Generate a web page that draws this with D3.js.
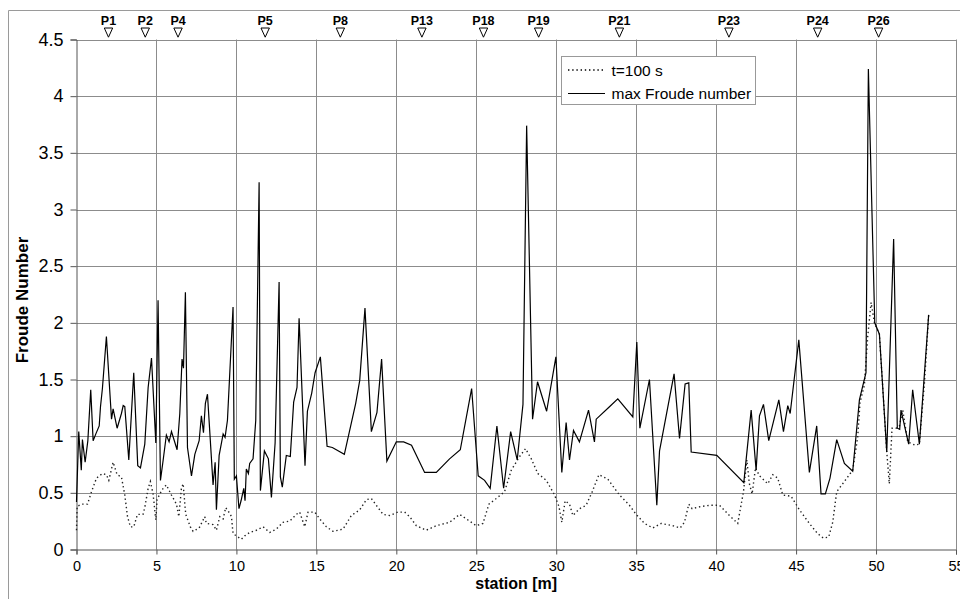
<!DOCTYPE html>
<html>
<head>
<meta charset="utf-8">
<script src="https://cdn.jsdelivr.net/npm/d3@7"></script>
<style>
  html, body { margin: 0; padding: 0; background: #fff; }
  svg { display: block; font-family: "Liberation Sans", Arial, sans-serif; }
</style>
</head>
<body>
<svg id="chart" width="960" height="599"></svg>
<script>
// ---- data ----
const maxStation = [
  0, 0.14, 0.3, 0.37, 0.54, 0.71, 0.89, 1.04, 1.21, 1.42,
  1.5, 1.62, 1.87, 2.19, 2.29, 2.54, 2.81, 2.92, 3.02, 3.27,
  3.58, 3.83, 4.0, 4.27, 4.48, 4.69, 4.96, 5.1, 5.25, 5.42,
  5.62, 5.79, 5.94, 6.29, 6.46, 6.6, 6.69, 6.81, 6.94, 7.19,
  7.4, 7.67, 7.81, 7.94, 8.06, 8.19, 8.54, 8.67, 8.75, 8.92,
  9.17, 9.29, 9.44, 9.79, 9.87, 10.0, 10.16, 10.29, 10.46, 10.54,
  10.62, 10.75, 10.83, 11.04, 11.21, 11.42, 11.5, 11.75, 12.0, 12.19,
  12.42, 12.67, 12.75, 12.87, 13.12, 13.37, 13.58, 13.79, 13.92, 14.29,
  14.44, 14.71, 14.92, 15.25, 15.67, 16.0, 16.75, 17.46, 17.71, 18.04,
  18.44, 18.79, 19.08, 19.41, 20.0, 20.46, 20.95, 21.77, 22.5, 23.33,
  24.0, 24.71, 25.12, 25.52, 25.87, 26.29, 26.71, 27.15, 27.56, 27.92,
  28.15, 28.52, 28.83, 29.4, 29.98, 30.35, 30.62, 30.83, 31.08, 31.45,
  32.02, 32.39, 32.5, 33.33, 33.85, 34.79, 35.04, 35.23, 35.83, 36.29,
  36.46, 37.37, 37.71, 38.06, 38.29, 38.44, 40.04, 41.73, 42.19, 42.5,
  42.71, 42.96, 43.29, 43.92, 44.21, 44.48, 44.63, 45.17, 45.83, 46.29,
  46.56, 46.83, 47.12, 47.54, 48.02, 48.54, 48.96, 49.37, 49.52, 49.92,
  50.21, 50.67, 51.1, 51.33, 51.48, 51.56, 52.04, 52.29, 52.71, 53.29
];
const maxFroude = [
  0.42, 1.04, 0.70, 0.97, 0.77, 0.96, 1.41, 0.96, 1.02, 1.09,
  1.26, 1.42, 1.88, 1.15, 1.24, 1.07, 1.20, 1.27, 1.26, 0.79,
  1.56, 0.74, 0.72, 0.93, 1.43, 1.69, 0.94, 2.20, 0.61, 0.79,
  1.01, 0.95, 1.04, 0.88, 1.20, 1.68, 1.60, 2.27, 0.90, 0.65,
  0.84, 0.96, 1.18, 1.03, 1.29, 1.37, 0.57, 0.77, 0.35, 0.83,
  1.02, 0.99, 1.14, 2.14, 0.62, 0.65, 0.36, 0.43, 0.54, 0.43,
  0.71, 0.67, 0.76, 0.80, 1.14, 3.24, 0.52, 0.87, 0.80, 0.46,
  0.94, 2.36, 0.64, 0.55, 0.83, 0.82, 1.30, 1.43, 2.04, 0.74,
  1.22, 1.38, 1.56, 1.70, 0.91, 0.90, 0.84, 1.29, 1.49, 2.13,
  1.04, 1.21, 1.68, 0.78, 0.95, 0.95, 0.92, 0.68, 0.68, 0.80,
  0.88, 1.42, 0.65, 0.61, 0.54, 1.09, 0.54, 1.04, 0.79, 1.28,
  3.74, 1.15, 1.48, 1.22, 1.70, 0.68, 1.12, 0.79, 1.05, 0.95,
  1.23, 0.95, 1.15, 1.26, 1.33, 1.17, 1.83, 1.07, 1.50, 0.39,
  0.87, 1.55, 0.98, 1.46, 1.47, 0.86, 0.83, 0.59, 1.23, 0.70,
  1.18, 1.28, 0.96, 1.32, 1.04, 1.27, 1.20, 1.85, 0.68, 1.09,
  0.49, 0.49, 0.63, 0.97, 0.76, 0.69, 1.32, 1.56, 4.24, 2.00,
  1.90, 0.86, 2.74, 1.07, 1.06, 1.23, 0.93, 1.41, 0.93, 2.07
];
const t100Station = [
  0, 0.04, 0.31, 0.69, 0.94, 1.25, 1.62, 1.87, 2.02, 2.29,
  2.54, 2.81, 3.02, 3.19, 3.37, 3.58, 3.81, 4.16, 4.27, 4.48,
  4.62, 4.79, 4.96, 5.04, 5.21, 5.42, 5.62, 5.94, 6.25, 6.4,
  6.56, 6.67, 6.83, 7.12, 7.29, 7.67, 8.02, 8.12, 8.54, 8.75,
  8.96, 9.17, 9.33, 9.58, 9.69, 9.79, 10.1, 10.31, 10.52, 10.83,
  11.25, 11.67, 12.08, 12.5, 12.92, 13.33, 13.75, 13.96, 14.27, 14.48,
  14.9, 15.21, 15.63, 16.04, 16.67, 17.19, 17.71, 18.13, 18.44, 18.75,
  19.17, 19.58, 20.1, 20.52, 20.83, 21.25, 21.87, 22.5, 23.33, 23.96,
  24.48, 25.0, 25.42, 25.79, 26.25, 26.77, 27.19, 27.71, 28.08, 28.44,
  28.85, 29.38, 29.9, 30.17, 30.35, 30.56, 30.83, 31.04, 31.46, 31.87,
  32.25, 32.67, 33.23, 33.96, 34.58, 35.0, 35.52, 36.04, 36.56, 37.29,
  37.75, 38.02, 38.29, 38.5, 39.06, 39.63, 40.21, 40.83, 41.35, 41.71,
  41.92, 42.08, 42.25, 42.46, 42.71, 43.23, 43.54, 43.85, 44.17, 44.69,
  45.21, 45.83, 46.35, 46.71, 47.04, 47.29, 47.54, 48.02, 48.54, 48.85,
  49.0, 49.27, 49.48, 49.69, 49.9, 50.21, 50.67, 50.83, 51.0, 51.25,
  51.46, 51.67, 51.98, 52.44, 52.71, 53.02, 53.17, 53.29
];
const t100Froude = [
  0.17, 0.38, 0.40, 0.40, 0.51, 0.63, 0.67, 0.66, 0.61, 0.77,
  0.66, 0.64, 0.48, 0.29, 0.20, 0.20, 0.31, 0.31, 0.37, 0.54,
  0.60, 0.49, 0.26, 0.44, 0.49, 0.54, 0.57, 0.48, 0.40, 0.29,
  0.54, 0.58, 0.31, 0.20, 0.16, 0.19, 0.29, 0.23, 0.22, 0.17,
  0.29, 0.27, 0.37, 0.32, 0.29, 0.14, 0.11, 0.09, 0.12, 0.15,
  0.17, 0.20, 0.15, 0.18, 0.24, 0.25, 0.31, 0.33, 0.20, 0.33,
  0.33, 0.27, 0.20, 0.16, 0.18, 0.30, 0.35, 0.44, 0.45, 0.39,
  0.31, 0.30, 0.33, 0.33, 0.29, 0.21, 0.17, 0.21, 0.24, 0.31,
  0.26, 0.21, 0.23, 0.40, 0.45, 0.51, 0.70, 0.82, 0.89, 0.80,
  0.67, 0.61, 0.48, 0.38, 0.24, 0.43, 0.40, 0.30, 0.36, 0.39,
  0.51, 0.66, 0.62, 0.48, 0.39, 0.31, 0.23, 0.19, 0.23, 0.21,
  0.19, 0.24, 0.40, 0.36, 0.38, 0.39, 0.39, 0.30, 0.23, 0.51,
  0.79, 0.58, 0.49, 0.72, 0.65, 0.58, 0.66, 0.63, 0.48, 0.47,
  0.35, 0.23, 0.14, 0.10, 0.11, 0.24, 0.51, 0.60, 0.70, 0.99,
  1.30, 1.45, 1.88, 2.18, 2.00, 1.90, 0.86, 0.58, 1.07, 1.07,
  1.09, 1.23, 0.95, 0.92, 0.93, 1.46, 1.79, 2.07
];
const markerNames = ["P1", "P2", "P4", "P5", "P8", "P13", "P18", "P19", "P21", "P23", "P24", "P26"];
const markerStations = [2.0, 4.3, 6.35, 11.8, 16.5, 21.6, 25.45, 28.9, 33.95, 40.8, 46.35, 50.16];
const xTicks = [0, 5, 10, 15, 20, 25, 30, 35, 40, 45, 50, 55];
const yTicks = [0, 0.5, 1, 1.5, 2, 2.5, 3, 3.5, 4, 4.5];
const seriesNames = ["t=100 s", "max Froude number"];

// ---- layout ----
const svg = d3.select("#chart");
const L = 76.5, R = 956, T = 39.5, B = 549.5;
const x = d3.scaleLinear().domain([0, 55]).range([L, R]);
const y = d3.scaleLinear().domain([0, 4.5]).range([B, T]);

// outer frame (top & left)
svg.append("line").attr("x1", 8.5).attr("x2", 960).attr("y1", 10.5).attr("y2", 10.5)
  .attr("stroke", "#9a9a9a").attr("stroke-width", 1);
svg.append("line").attr("x1", 8.5).attr("x2", 8.5).attr("y1", 10.5).attr("y2", 599)
  .attr("stroke", "#9a9a9a").attr("stroke-width", 1);

// grid
const grid = svg.append("g");
grid.selectAll(".hg").data(yTicks.filter(d => d > 0)).join("line")
  .attr("x1", L).attr("x2", R)
  .attr("y1", d => Math.round(y(d)) + 0.5).attr("y2", d => Math.round(y(d)) + 0.5)
  .attr("stroke", "#8c8c8c").attr("stroke-width", 1);
grid.selectAll(".vg").data(xTicks.filter(d => d > 0)).join("line")
  .attr("x1", d => Math.round(x(d)) + 0.5).attr("x2", d => Math.round(x(d)) + 0.5)
  .attr("y1", T).attr("y2", B)
  .attr("stroke", "#8c8c8c").attr("stroke-width", 1);

// axes
const yAxis = d3.axisLeft(y).tickValues(yTicks).tickSize(6).tickPadding(7)
  .tickFormat(d => String(d));
const gy = svg.append("g").attr("transform", `translate(${L},0)`).call(yAxis);
gy.select(".domain").attr("stroke", "#555");
gy.selectAll(".tick line").attr("stroke", "#555");
gy.selectAll(".tick text").attr("font-size", 18).attr("fill", "#000")
  .attr("font-family", "Liberation Sans, Arial, sans-serif");

const xAxis = d3.axisBottom(x).tickValues(xTicks).tickSize(5).tickPadding(6)
  .tickFormat(d => String(d));
const gx = svg.append("g").attr("transform", `translate(0,${B})`).call(xAxis);
gx.select(".domain").attr("stroke", "#555");
gx.selectAll(".tick line").attr("stroke", "#555");
gx.selectAll(".tick text").attr("font-size", 14.5).attr("fill", "#000")
  .attr("font-family", "Liberation Sans, Arial, sans-serif");

// axis titles
svg.append("text").attr("x", (L + R) / 2).attr("y", 589)
  .attr("text-anchor", "middle").attr("font-size", 16).attr("font-weight", "bold")
  .text("station [m]");
svg.append("text").attr("transform", "translate(28,300) rotate(-90)")
  .attr("text-anchor", "middle").attr("font-size", 17).attr("font-weight", "bold")
  .text("Froude Number");

// series
const tData = t100Station.map((s, i) => [s, t100Froude[i]]);
const mData = maxStation.map((s, i) => [s, maxFroude[i]]);
const line = d3.line().x(d => x(d[0])).y(d => y(d[1]));

svg.append("path").datum(tData).attr("d", line)
  .attr("fill", "none").attr("stroke", "#222").attr("stroke-width", 1.4)
  .attr("stroke-dasharray", "1.4,2.8");
svg.append("path").datum(mData).attr("d", line)
  .attr("fill", "none").attr("stroke", "#000").attr("stroke-width", 1.2)
  .attr("stroke-linejoin", "miter");

// legend
const lg = svg.append("g");
lg.append("rect").attr("x", 561.5).attr("y", 56.5).attr("width", 194).attr("height", 48)
  .attr("fill", "#fff").attr("stroke", "#999");
const legendStyles = [{dash: "1.4,2.8", w: 1.4}, {dash: null, w: 1.2}];
seriesNames.forEach((name, i) => {
  const ly = 70 + i * 23.5;
  lg.append("line").attr("x1", 568).attr("x2", 605).attr("y1", ly).attr("y2", ly)
    .attr("stroke", "#000").attr("stroke-width", legendStyles[i].w)
    .attr("stroke-dasharray", legendStyles[i].dash);
  lg.append("text").attr("x", 611.5).attr("y", ly + 5.5).attr("font-size", 15.5)
    .attr("fill", "#000").text(name);
});

// station markers (top)
const mk = svg.append("g");
markerNames.forEach((name, i) => {
  const mx = x(markerStations[i]);
  mk.append("text").attr("x", mx).attr("y", 25).attr("text-anchor", "middle")
    .attr("font-size", 12.5).attr("font-weight", "bold").text(name);
  mk.append("path")
    .attr("d", `M${mx - 4.2},28 L${mx + 4.2},28 L${mx},37.2 Z`)
    .attr("fill", "#fff").attr("stroke", "#000").attr("stroke-width", 1);
});
</script>
</body>
</html>
